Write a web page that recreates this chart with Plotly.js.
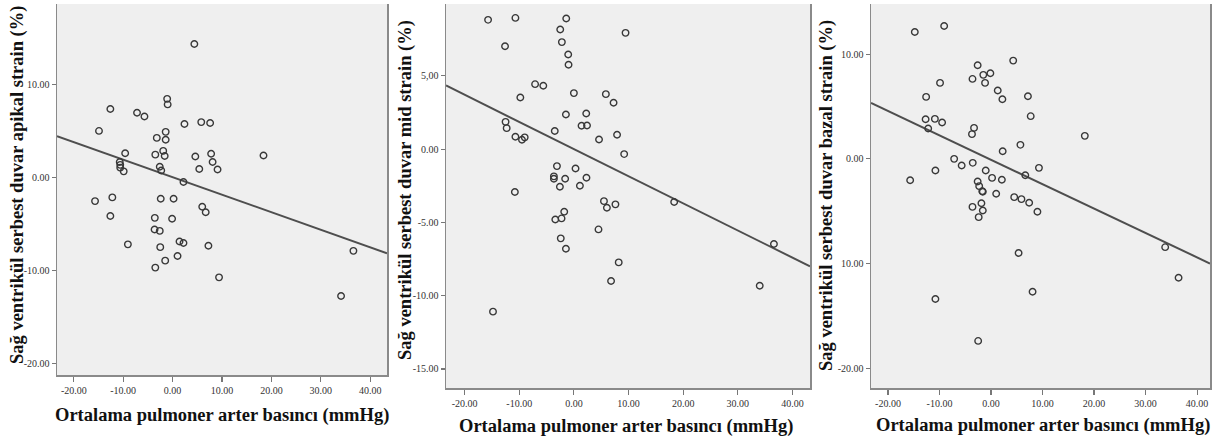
<!DOCTYPE html>
<html>
<head>
<meta charset="utf-8">
<script src="https://cdn.plot.ly/plotly-3.0.1.min.js"></script>
<style>html,body{margin:0;padding:0;background:#fff;}#chart{width:1215px;height:440px;}</style>
</head>
<body>
<div id="chart"></div>
<script>
// ---------- Data ----------
// Panel 1: apikal strain vs mean pulmonary artery pressure
const apikalX = [4.4,-1.1,-1.0,-12.6,-7.2,-5.7,2.4,5.8,7.6,-14.9,-1.4,-3.2,-1.4,-9.6,-1.9,-3.5,-1.6,4.6,7.8,8.1,18.4,-10.7,-10.6,-10.6,-9.9,-2.6,-2.3,5.4,9.1,2.2,-15.7,-12.2,-2.4,0.2,-12.6,-3.6,-0.1,6.0,6.7,-3.65,-2.6,-9.05,-2.5,1.4,2.2,7.25,1.0,-1.5,-3.5,9.4,34.1,36.6];
const apikalY = [14.4,8.5,7.9,7.4,7.0,6.6,5.8,6.0,5.9,5.05,4.95,4.3,4.1,2.65,2.9,2.5,2.35,2.3,2.6,1.7,2.4,1.7,1.4,1.1,0.7,1.2,0.8,0.95,0.9,-0.45,-2.5,-2.1,-2.25,-2.25,-4.1,-4.3,-4.4,-3.1,-3.7,-5.55,-5.7,-7.15,-7.45,-6.85,-7.0,-7.3,-8.4,-8.9,-9.65,-10.7,-12.7,-7.85];
const apikalFitX = [-23.4, 43.4];
const apikalFitY = [4.48, -8.1];

// Panel 2: mid strain
const midX = [-15.7,-10.7,-1.4,-2.5,9.45,-12.6,-2.2,-1.04,-0.98,-7.1,-5.6,0.0,5.85,-9.8,7.26,-1.46,2.26,-12.5,-12.3,1.4,2.4,-3.5,-10.7,-9.5,-9.0,4.6,7.9,9.2,-3.1,0.3,-3.66,-3.66,-1.6,2.3,-2.56,1.1,-10.8,5.5,6.04,7.6,18.35,-1.77,-3.4,-2.26,4.5,-2.4,-1.46,8.2,6.8,34.0,36.6,-14.8];
const midY = [8.82,8.95,8.91,8.16,7.93,7.02,7.3,6.45,5.75,4.43,4.32,3.82,3.75,3.52,3.16,2.36,2.43,1.86,1.43,1.59,1.61,1.23,0.84,0.64,0.8,0.66,0.98,-0.34,-1.16,-1.32,-1.86,-2.02,-2.02,-1.95,-2.57,-2.5,-2.93,-3.55,-4.0,-3.77,-3.61,-4.27,-4.8,-4.73,-5.48,-6.09,-6.8,-7.73,-9.0,-9.32,-6.48,-11.09];
const midFitX = [-23.4, 43.2];
const midFitY = [4.34, -8.0];

// Panel 3: bazal strain
const bazalX = [-14.8,-9.1,4.3,-2.6,-0.13,-1.5,-3.6,-1.16,-9.9,1.3,2.2,7.16,-12.6,7.7,-12.7,-10.9,-9.5,-12.2,-3.3,-3.7,18.2,5.7,2.26,-7.16,-5.7,-3.55,-10.8,-1.03,9.3,6.65,0.2,2.1,-15.7,-2.6,-2.3,-1.7,-1.6,1.0,4.5,5.9,7.4,-1.87,-3.6,-1.6,9.0,-2.4,5.35,33.8,36.4,8.06,-10.8,-2.5];
const bazalY = [12.13,12.7,9.39,8.95,8.18,8.03,7.64,7.26,7.26,6.53,5.7,5.99,5.92,4.08,3.79,3.82,3.47,2.9,2.96,2.36,2.2,1.34,0.73,0.0,-0.64,-0.38,-1.11,-1.11,-0.86,-1.56,-1.82,-2.0,-2.04,-2.17,-2.61,-3.09,-3.15,-3.34,-3.66,-3.85,-4.2,-4.24,-4.59,-4.94,-5.06,-5.57,-9.0,-8.44,-11.37,-12.7,-13.4,-17.4];
const bazalFitX = [-23.3, 42.5];
const bazalFitY = [5.35, -10.0];

// Tick values / labels
const xTickVals = [-20, -10, 0, 10, 20, 30, 40];
const xTickText = ["-20.00", "-10.00", "0.00", "10.00", "20.00", "30.00", "40.00"];
const y1TickVals = [10, 0, -10, -20];
const y1TickText = ["10.00", "0.00", "-10.00", "-20.00"];
const y2TickVals = [5, 0, -5, -10, -15];
const y2TickText = ["5,00", "0.00", "-5.00", "-10.00", "-15.00"];
const y3TickVals = [10, 0, -10, -20];
const y3TickText = ["10.00", "0.00", "10.00", "-20.00"];

const yTitles = ["Sağ ventrikül serbest duvar apikal strain (%)", "Sağ ventrikül serbest duvar mid strain (%)", "Sağ ventrikül serbest duvar bazal strain (%)"];
const xTitle = "Ortalama pulmoner arter basıncı (mmHg)";

// ---------- Styling ----------
const W = 1215, H = 440;
const SERIF = 'Liberation Serif, Times New Roman, serif';
const markerStyle = {symbol: 'circle-open', size: 6.5, color: '#383838', line: {width: 1.4, color: '#383838'}};
const fitStyle = {color: '#4e4e4e', width: 2};

function scatter(x, y, xa, ya) {
  return {x: x, y: y, xaxis: xa, yaxis: ya, type: 'scatter', mode: 'markers', marker: markerStyle, hoverinfo: 'skip', showlegend: false};
}
function fit(x, y, xa, ya) {
  return {x: x, y: y, xaxis: xa, yaxis: ya, type: 'scatter', mode: 'lines', line: fitStyle, hoverinfo: 'skip', showlegend: false};
}

const data = [
  fit(apikalFitX, apikalFitY, 'x', 'y'),
  scatter(apikalX, apikalY, 'x', 'y'),
  fit(midFitX, midFitY, 'x2', 'y2'),
  scatter(midX, midY, 'x2', 'y2'),
  fit(bazalFitX, bazalFitY, 'x3', 'y3'),
  scatter(bazalX, bazalY, 'x3', 'y3')
];

function xAxis(left, right, range, anchor) {
  return {
    domain: [left / W, right / W], range: range, anchor: anchor,
    tickmode: 'array', tickvals: xTickVals, ticktext: xTickText,
    ticks: 'outside', ticklen: 5, tickwidth: 1.2, tickcolor: '#777',
    showline: true, linecolor: '#8a8a8a', linewidth: 1.5, mirror: false,
    showgrid: false, zeroline: false,
    tickfont: {family: SERIF, size: 10, color: '#333'}
  };
}
function yAxis(top, bottom, range, anchor, tv, tt) {
  return {
    domain: [1 - bottom / H, 1 - top / H], range: range, anchor: anchor,
    tickmode: 'array', tickvals: tv, ticktext: tt,
    ticks: 'outside', ticklen: 4, tickwidth: 1.2, tickcolor: '#777',
    showline: true, linecolor: '#8a8a8a', linewidth: 1.5, mirror: true,
    showgrid: false, zeroline: false,
    tickfont: {family: SERIF, size: 10, color: '#333'}
  };
}

const titleFont = {family: SERIF, size: 18.5, color: '#111', weight: 'bold'};
function yTitleAnn(text, cx, cy) {
  return {text: '<b>' + text + '</b>', xref: 'paper', yref: 'paper', x: cx / W, y: 1 - cy / H,
          xanchor: 'center', yanchor: 'middle', textangle: -90, showarrow: false, font: titleFont};
}
function xTitleAnn(cx, cy) {
  return {text: '<b>' + xTitle + '</b>', xref: 'paper', yref: 'paper', x: cx / W, y: 1 - cy / H,
          xanchor: 'center', yanchor: 'middle', showarrow: false, font: titleFont};
}

const layout = {
  width: W, height: H,
  margin: {l: 0, r: 0, t: 0, b: 0},
  paper_bgcolor: '#ffffff',
  plot_bgcolor: '#efefef',
  showlegend: false,
  xaxis: xAxis(57, 387, [-23.4, 43.4], 'y'),
  yaxis: yAxis(4, 375, [-21.2, 18.7], 'x', y1TickVals, y1TickText),
  xaxis2: xAxis(446, 810, [-23.4, 43.2], 'y2'),
  yaxis2: yAxis(4, 388, [-16.3, 9.9], 'x2', y2TickVals, y2TickText),
  xaxis3: xAxis(871, 1210, [-23.3, 42.5], 'y3'),
  yaxis3: yAxis(4, 388, [-21.9, 14.8], 'x3', y3TickVals, y3TickText),
  annotations: [
    yTitleAnn(yTitles[0], 18, 185),
    yTitleAnn(yTitles[1], 405, 190),
    yTitleAnn(yTitles[2], 826, 196),
    xTitleAnn(222, 415),
    xTitleAnn(626, 426),
    xTitleAnn(1043, 425)
  ]
};

Plotly.newPlot('chart', data, layout, {staticPlot: true, displayModeBar: false});
</script>
</body>
</html>
